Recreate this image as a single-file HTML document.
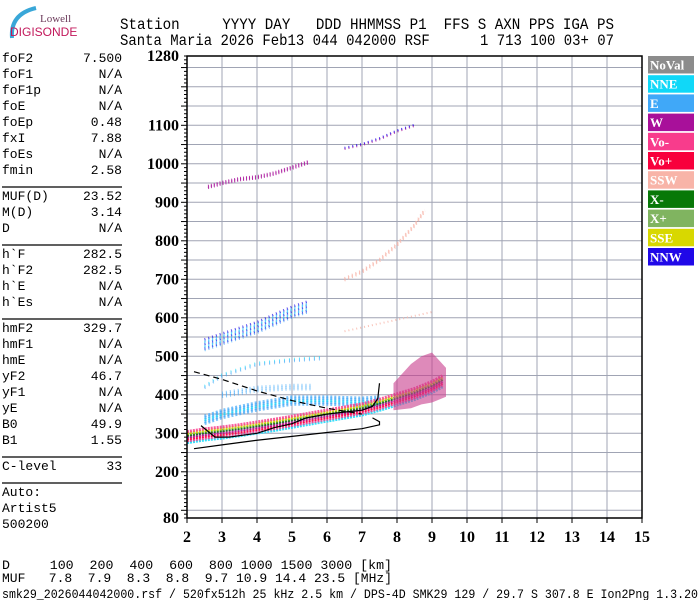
<!DOCTYPE html>
<html><head><meta charset="utf-8"><style>
html,body{margin:0;padding:0;background:#fff;width:700px;height:600px;overflow:hidden}
svg{display:block}
.mono{font-family:"Liberation Mono",monospace}
.ser{font-family:"Liberation Serif",serif;font-weight:bold}
</style></head><body>
<svg id="chart" width="700" height="600" viewBox="0 0 700 600">
<g>
<path d="M12 38 Q10 14 36 8" stroke="#39a7d8" stroke-width="4" fill="none"/>
<text x="40" y="22" font-family="Liberation Serif,serif" font-size="11" fill="#6b3a5a">Lowell</text>
<text x="10" y="36" font-family="Liberation Sans,sans-serif" font-size="12" fill="#c2185b">DIGISONDE</text>
</g>
<g class="mono" font-size="16" fill="#000">
<text x="120" y="29" textLength="494" lengthAdjust="spacingAndGlyphs" xml:space="preserve">Station     YYYY DAY   DDD HHMMSS P1  FFS S AXN PPS IGA PS</text>
<text x="120" y="45" textLength="494" lengthAdjust="spacingAndGlyphs" xml:space="preserve">Santa Maria 2026 Feb13 044 042000 RSF      1 713 100 03+ 07</text>
</g>
<g id="side" class="mono" font-size="13"></g>
<g id="grid"></g>
<g id="echoes"></g>
<g id="curves"></g>
<rect x="187" y="56" width="455" height="462" fill="none" stroke="#000" stroke-width="1.5"/>
<g id="axes" class="ser" font-size="16"></g>
<g id="legend"></g>
<g class="mono" font-size="12.5">
<text x="2" y="569" xml:space="preserve" textLength="390" lengthAdjust="spacingAndGlyphs">D     100  200  400  600  800 1000 1500 3000 [km]</text>
<text x="2" y="582" xml:space="preserve" textLength="390" lengthAdjust="spacingAndGlyphs">MUF   7.8  7.9  8.3  8.8  9.7 10.9 14.4 23.5 [MHz]</text>
<text x="2" y="598" textLength="696" lengthAdjust="spacingAndGlyphs">smk29_2026044042000.rsf / 520fx512h 25 kHz 2.5 km / DPS-4D SMK29 129 / 29.7 S 307.8 E Ion2Png 1.3.20</text>
</g>
</svg>
<script>
const NS="http://www.w3.org/2000/svg";
// axis data
const xTicks=[2,3,4,5,6,7,8,9,10,11,12,13,14,15];
const yTicks=[80,200,300,400,500,600,700,800,900,1000,1100,1280];
// legend
const legendLabels=["NoVal","NNE","E","W","Vo-","Vo+","SSW","X-","X+","SSE","NNW"];
const legendColors=["#8c8c8c","#10d8f8","#40a8f8","#a8109a","#f83c8c","#f8003c","#f8b4a8","#087808","#80b460","#d8d800","#2008e8"];
// parameter panel
const paramNames=["foF2","foF1","foF1p","foE","foEp","fxI","foEs","fmin","|","MUF(D)","M(D)","D","|","h`F","h`F2","h`E","h`Es","|","hmF2","hmF1","hmE","yF2","yF1","yE","B0","B1","|","C-level","|","Auto:","Artist5","500200"];
const paramValues=["7.500","N/A","N/A","N/A","0.48","7.88","N/A","2.58","","23.52","3.14","N/A","","282.5","282.5","N/A","N/A","","329.7","N/A","N/A","46.7","N/A","N/A","49.9","1.55","","33","","","",""];
// echo traces (freq MHz, virtual height km)
const oFreq=[2.0,2.5,3.0,3.5,4.0,4.5,5.0,5.5,6.0,6.5,7.0,7.5,8.0,8.5,9.0,9.3];
const oHeight=[290,297,302,308,315,322,330,338,346,354,362,374,388,402,420,435];
const eFreq=[2.5,3.0,4.0,5.0,6.0,7.0,7.5];
const eHeight=[335,350,370,385,385,382,385];
const e2Freq=[3.0,4.0,5.0,5.6];
const e2Height=[400,415,420,420];
const hop2Freq=[2.5,3.0,3.5,4.0,4.5,5.0,5.5];
const hop2Height=[530,545,560,575,595,615,630];
const hop2bFreq=[2.5,3.0,4.0,5.0,5.8];
const hop2bHeight=[420,450,480,490,495];
const hop3Freq=[2.6,3.0,3.5,4.0,4.5,5.0,5.5];
const hop3Height=[940,950,960,965,975,990,1005];
const sswFreq=[6.5,7.0,7.5,8.0,8.5,8.8];
const sswHeight=[700,720,750,790,840,880];
const ssw2Freq=[6.5,7.0,7.5,8.0,8.5,9.0];
const ssw2Height=[565,575,585,595,605,615];
const upperFreq=[6.5,7.0,7.5,8.0,8.5];
const upperHeight=[1040,1050,1065,1085,1100];
const clusterFreq=[7.9,8.4,8.7,9.0,9.4];
const clusterLow=[360,365,375,380,395];
const clusterHigh=[430,480,500,510,470];
// black curves
const traceFreq=[2.4,2.6,2.8,3.2,4.0,4.5,5.0,5.4,6.0,6.5,7.0,7.3,7.45,7.5];
const traceHeight=[320,305,290,290,300,315,325,340,350,355,360,370,390,430];
const lowFreq=[2.2,3.0,4.0,5.0,6.0,7.0,7.5,7.5,7.3];
const lowHeight=[260,270,282,292,302,312,322,330,340];
const dashFreq=[2.2,3.0,4.0,5.0,6.0,7.0];
const dashHeight=[460,440,410,385,365,350];

const X0=187,X1=642,Y0=518,Y1=56;
const fx=f=>X0+(f-2)*(X1-X0)/13;
const fy=h=>Y0-(h-80)*(Y0-Y1)/1200;
function mk(tag,attrs,parent){const e=document.createElementNS(NS,tag);for(const k in attrs)e.setAttribute(k,attrs[k]);parent.appendChild(e);return e;}
const grid=document.getElementById('grid');
for(let f=2;f<=15;f++){
  const l=mk('line',{x1:fx(f),x2:fx(f),y1:Y1,y2:Y0,stroke:'#a0a4b4','stroke-width':1},grid);
  
  
}
for(let h=100;h<1280;h+=50){
  const l=mk('line',{x1:X0,x2:X1,y1:fy(h),y2:fy(h),stroke:'#a0a4b4','stroke-width':1},grid);
  
  
}
const axes=document.getElementById('axes');
for(let h=80;h<=1280;h+=10){
  const L=(h%50===0)?6:3;
  mk('line',{x1:X0-L,x2:X0,y1:fy(h),y2:fy(h),stroke:'#000'},axes);
}
xTicks.forEach(f=>{
  mk('line',{x1:fx(f),x2:fx(f),y1:Y0,y2:Y0+5,stroke:'#000'},axes);
  const t=mk('text',{x:fx(f),y:542,'text-anchor':'middle'},axes);t.textContent=f;
  
  
});
yTicks.forEach(h=>{
  const t=mk('text',{x:179,y:fy(h)+5,'text-anchor':'end'},axes);t.textContent=h;
  
  
});
const lg=document.getElementById('legend');
legendLabels.forEach((s,i)=>{
  const y=56+i*19.2;
  const r=mk('rect',{x:648,y:y,width:46,height:17.5,fill:legendColors[i]},lg);
  
  
  const t=mk('text',{x:650,y:y+13.5,fill:'#fff','font-family':'Liberation Serif,serif','font-weight':'bold','font-size':'13'},lg);t.textContent=s;
  
  
});
const side=document.getElementById('side');
let y=62;
paramNames.forEach((n,i)=>{
  if(n==='|'){const l=mk('line',{x1:2,x2:122,y1:y-3,y2:y-3,stroke:'#000','stroke-width':1.3},side);
    
    
    y+=10;return;}
  const t=mk('text',{x:2,y:y},side);t.textContent=n;
  
  
  if(paramValues[i]){const v=mk('text',{x:122,y:y,'text-anchor':'end'},side);v.textContent=paramValues[i];
    
    }
  y+=16;
});
const ech=document.getElementById('echoes');
function pts(F,H,dh){return F.map((f,i)=>fx(f)+','+fy(H[i]+(dh||0))).join(' ');}
function band(F,H,colors,w,name,dash,op){
  colors.forEach((c,k)=>{
    const p=mk('polyline',{points:pts(F,H,(k-(colors.length-1)/2)*w*1.6),fill:'none',stroke:c,'stroke-width':w,'stroke-dasharray':dash||'2 2','stroke-opacity':op||0.8},ech);
    
    
  });
}
band(hop2bFreq,hop2bHeight,['#40a8f8','#40a8f8','#10d8f8'],2,'scatter-band','1 4',0.6);
band(eFreq,eHeight,['#40a8f8','#40a8f8','#10d8f8','#40a8f8','#40a8f8'],3,'e-echo-band','2 2',0.7);
band(e2Freq,e2Height,['#40a8f8','#40a8f8','#40a8f8'],3,'e-echo-upper','1 3',0.6);
band(hop2Freq,hop2Height,['#40a8f8','#2008e8','#10d8f8','#40a8f8','#2008e8','#10d8f8','#40a8f8','#2008e8'],2.5,'second-hop-band','1 3',0.7);
band(oFreq,oHeight,['#10d8f8','#f83c8c','#f8003c','#a8109a','#087808','#d8d800','#f83c8c'],3,'o-trace-band','2 1',0.85);
band(hop3Freq,hop3Height,['#a8109a','#a8109a','#a8109a'],2,'third-hop-band','1 2',0.8);
band(sswFreq,sswHeight,['#f8b4a8','#f8b4a8','#f8b4a8'],2,'ssw-band','1 3',0.8);
band(ssw2Freq,ssw2Height,['#f8b4a8'],2,'ssw-low-band','1 3',0.8);
band(upperFreq,upperHeight,['#a8109a','#2008e8'],2,'upper-echo-band','1 3',0.8);
const cl=[];clusterFreq.forEach((f,i)=>cl.push(fx(f)+','+fy(clusterHigh[i])));
for(let i=clusterFreq.length-1;i>=0;i--)cl.push(fx(clusterFreq[i])+','+fy(clusterLow[i]));
const cp=mk('polygon',{points:cl.join(' '),fill:'#c83c8c','fill-opacity':0.6},ech);


const cv=document.getElementById('curves');
const c1=mk('polyline',{points:pts(traceFreq,traceHeight),fill:'none',stroke:'#000','stroke-width':1.2},cv);


const c2=mk('polyline',{points:pts(lowFreq,lowHeight),fill:'none',stroke:'#000','stroke-width':1.2},cv);


const c3=mk('polyline',{points:pts(dashFreq,dashHeight),fill:'none',stroke:'#000','stroke-width':1.2,'stroke-dasharray':'6 4'},cv);


</script>
</body></html>
